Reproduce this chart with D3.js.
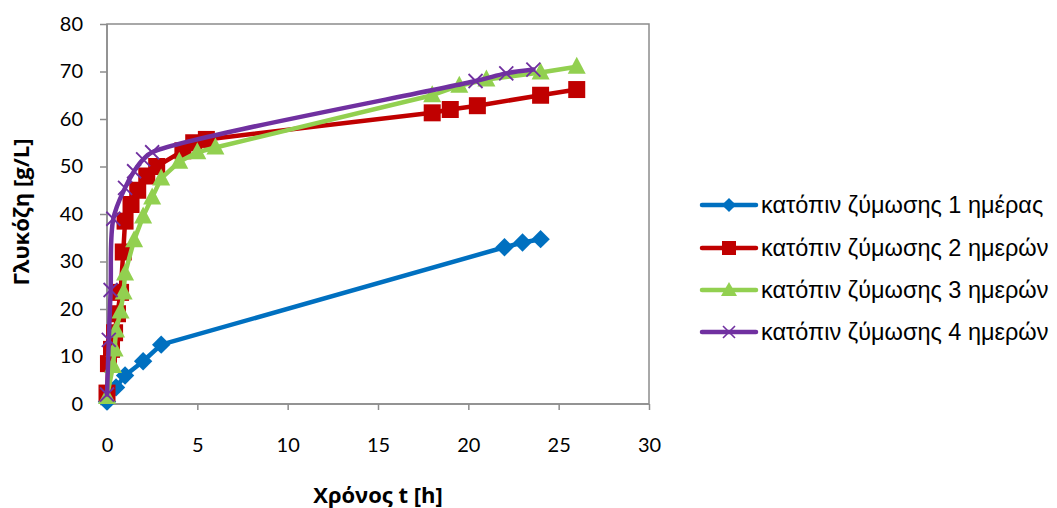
<!DOCTYPE html>
<html><head><meta charset="utf-8">
<script src="https://cdn.jsdelivr.net/npm/d3@7"></script>
<style>body{margin:0;background:#fff}svg{display:block}</style>
</head><body><div id="chart"></div>
<script>
const xTicks = [0, 5, 10, 15, 20, 25, 30];
const yTicks = [0, 10, 20, 30, 40, 50, 60, 70, 80];
const seriesNames = ["κατόπιν ζύμωσης 1 ημέρας", "κατόπιν ζύμωσης 2 ημερών", "κατόπιν ζύμωσης 3 ημερών", "κατόπιν ζύμωσης 4 ημερών"];
const t1 = [0, 0.5, 1, 2, 3, 22, 23, 24];
const g1 = [0.5, 3.5, 6, 9, 12.5, 33, 34, 34.7];
const t2 = [0, 0.08, 0.25, 0.42, 0.58, 0.75, 0.9, 1.0, 1.33, 1.7, 2.2, 2.75, 4.2, 4.8, 5.5, 18, 19, 20.5, 24, 26];
const g2 = [2.3, 8.5, 11.5, 15, 19, 23.5, 32, 38.5, 42, 45, 48, 50, 53.3, 55, 55.7, 61.3, 62, 62.8, 65, 66.2];
const t3 = [0, 0.33, 0.42, 0.5, 0.75, 0.92, 1.0, 1.5, 2, 2.5, 3, 4, 5, 6, 18, 19.5, 21, 24, 26];
const g3 = [1.5, 8, 11.5, 15.5, 19.5, 23.5, 27.5, 34.5, 39.5, 43.5, 47.5, 51, 53, 54, 65, 67, 68.3, 69.8, 71];
const t4 = [0, 0.1, 0.2, 0.35, 1, 1.5, 2, 2.5, 20.4, 22.1, 23.6];
const g4 = [2, 13.5, 24, 39, 45.5, 49, 51.5, 53, 68, 69.6, 70.4];
const colors = ["#0070C0", "#C00000", "#92D050", "#7030A0"];
const markers = ["diamond", "square", "triangle", "x"];

const W = 1057, H = 508;
const m = {left: 107, top: 24, right: 649, bottom: 404};
const svg = d3.select("#chart").append("svg").attr("width", W).attr("height", H);
const x = d3.scaleLinear().domain([0, 30]).range([m.left, m.right]);
const y = d3.scaleLinear().domain([0, 80]).range([m.bottom, m.top]);
const font = "Lato, 'Liberation Sans', Arial, sans-serif";
const axisColor = "#8c8c8c";

svg.append("rect").attr("x", m.left).attr("y", m.top).attr("width", m.right - m.left).attr("height", m.bottom - m.top)
  .attr("fill", "none").attr("stroke", axisColor).attr("stroke-width", 1.5);

const yAxis = svg.append("g").attr("transform", `translate(${m.left},0)`)
  .call(d3.axisLeft(y).tickValues(yTicks).tickSize(7).tickPadding(17));
const xAxis = svg.append("g").attr("transform", `translate(0,${m.bottom})`)
  .call(d3.axisBottom(x).tickValues(xTicks).tickSize(6).tickPadding(28));
[xAxis, yAxis].forEach(a => {
  a.selectAll("path,line").attr("stroke", axisColor).attr("stroke-width", 1.5);
  a.selectAll("text").attr("font-family", font).attr("font-size", 20).attr("fill", "#000");
});
yAxis.select(".domain").remove();
xAxis.select(".domain").remove();
svg.append("line").attr("x1", m.left).attr("x2", m.left).attr("y1", m.top).attr("y2", m.bottom).attr("stroke", axisColor).attr("stroke-width", 1.5);
svg.append("line").attr("x1", m.left).attr("x2", m.right).attr("y1", m.bottom).attr("y2", m.bottom).attr("stroke", axisColor).attr("stroke-width", 1.5);

svg.append("text").attr("x", 378).attr("y", 503).attr("text-anchor", "middle")
  .attr("font-family", "'Open Sans', Arial, sans-serif").attr("font-weight", "bold").attr("font-size", 22).text("Χρόνος t [h]");
svg.append("text").attr("transform", "translate(29,212) rotate(-90)").attr("text-anchor", "middle")
  .attr("font-family", "'Open Sans', Arial, sans-serif").attr("font-weight", "bold").attr("font-size", 22).text("Γλυκόζη [g/L]");

const data = [[t1, g1], [t2, g2], [t3, g3], [t4, g4]].map(([t, g]) => t.map((v, i) => ({t: v, g: g[i]})));

function drawMarker(sel, type, color) {
  if (type === "diamond") {
    sel.append("rect").attr("x", -6.5).attr("y", -6.5).attr("width", 13).attr("height", 13)
      .attr("transform", "rotate(45)").attr("fill", color);
  } else if (type === "square") {
    sel.append("rect").attr("x", -8.5).attr("y", -8.5).attr("width", 17).attr("height", 17).attr("fill", color);
  } else if (type === "triangle") {
    sel.append("path").attr("d", "M0,-10 L9,7 L-9,7 Z").attr("fill", color);
  } else {
    sel.append("path").attr("d", "M-7,-7 L7,7 M-7,7 L7,-7").attr("stroke", color).attr("stroke-width", 1.8).attr("fill", "none");
  }
}

data.forEach((d, i) => {
  const curve = i === 3 ? d3.curveCatmullRom.alpha(0.5) : d3.curveLinear;
  const line = d3.line().x(p => x(p.t)).y(p => y(p.g)).curve(curve);
  svg.append("path").datum(d).attr("d", line).attr("fill", "none").attr("stroke", colors[i])
    .attr("stroke-width", 4.5).attr("stroke-linejoin", "round").attr("stroke-linecap", "round");
  const g = svg.append("g").selectAll("g").data(d).join("g")
    .attr("transform", p => `translate(${x(p.t)},${y(p.g)})`);
  drawMarker(g, markers[i], colors[i]);
});

const legY = [205, 248, 290, 332];
seriesNames.forEach((name, i) => {
  const lg = svg.append("g").attr("transform", `translate(0,${legY[i]})`);
  lg.append("line").attr("x1", 702).attr("x2", 756).attr("y1", 0).attr("y2", 0)
    .attr("stroke", colors[i]).attr("stroke-width", 4.5).attr("stroke-linecap", "round");
  const mk = lg.append("g").attr("transform", "translate(729,0)");
  if (markers[i] === "diamond") mk.append("rect").attr("x", -5).attr("y", -5).attr("width", 10).attr("height", 10).attr("transform", "rotate(45)").attr("fill", colors[i]);
  else if (markers[i] === "square") mk.append("rect").attr("x", -7).attr("y", -7).attr("width", 14).attr("height", 14).attr("fill", colors[i]);
  else if (markers[i] === "triangle") mk.append("path").attr("d", "M0,-8 L8,6 L-8,6 Z").attr("fill", colors[i]);
  else mk.append("path").attr("d", "M-6,-6 L6,6 M-6,6 L6,-6").attr("stroke", colors[i]).attr("stroke-width", 1.6);
  lg.append("text").attr("x", 761).attr("y", 8).attr("font-family", "'Liberation Sans', Arial, sans-serif")
    .attr("font-size", 23.5).attr("fill", "#000").text(name);
});
</script></body></html>
